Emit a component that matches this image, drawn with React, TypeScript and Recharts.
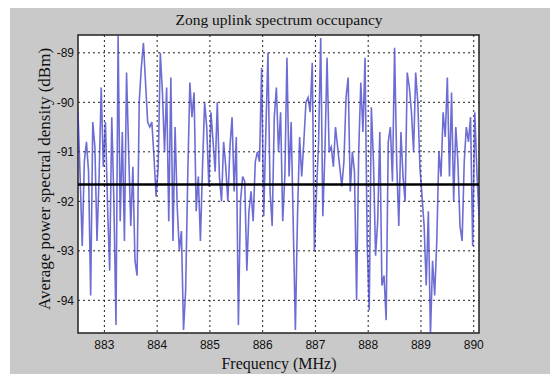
import React from "react";
import {
  CartesianGrid,
  LineChart,
  Line,
  ReferenceArea,
  ReferenceLine,
  XAxis,
  YAxis,
} from "recharts";

// sample grid of the sweep (MHz)
const FREQ_START = 882.5;
const FREQ_STEP = 0.04;

// average PSD per bin (dBm)
const PSD = [
  -90.2, -91.5, -92.9, -91.2, -90.8, -91.4, -93.9, -90.4, -90.9, -92.8,
  -91.5, -89.7, -91.3, -90.4, -92.1, -93.4, -90.3, -92.0, -94.5, -88.65,
  -92.4, -90.6, -92.8, -89.4, -91.0, -92.5, -91.3, -93.2, -93.5, -90.0,
  -89.3, -88.8, -89.6, -90.4, -90.5, -90.4, -91.1, -91.9, -91.3, -89.0,
  -89.8, -91.0, -89.7, -92.4, -89.5, -92.8, -90.5, -92.1, -93.0, -92.6,
  -94.6, -93.8, -91.5, -89.6, -90.3, -89.8, -92.2, -91.5, -92.8, -91.3,
  -90.0, -90.5, -91.7, -90.2, -90.8, -91.4, -90.0, -91.5, -92.0, -90.8,
  -91.3, -92.0, -90.9, -90.3, -91.8, -90.7, -94.5, -92.0, -91.5, -91.6,
  -93.4, -92.2, -91.8, -92.4, -91.2, -91.0, -91.2, -89.3, -92.3, -90.6,
  -89.0, -91.8, -92.5, -90.3, -89.7, -91.0, -90.2, -92.4, -91.5, -89.1,
  -91.5, -90.4, -92.5, -94.6, -92.3, -90.7, -91.5, -90.8, -90.0, -89.9,
  -90.2, -89.2, -93.0, -91.8, -90.8, -88.7, -92.3, -91.0, -89.1, -91.0,
  -90.9, -91.3, -90.5, -90.9, -91.3, -91.7, -91.2, -89.9, -89.5, -91.8,
  -91.0, -91.4, -94.0, -91.0, -89.6, -90.6, -89.1, -92.8, -94.2, -90.1,
  -91.2, -93.1, -92.4, -90.6, -93.7, -93.5, -94.4, -90.8, -90.5, -91.6,
  -88.9, -91.2, -92.5, -90.6, -91.5, -92.0, -89.4, -89.7, -90.2, -91.0,
  -89.4, -90.0, -91.3, -91.9, -92.5, -93.7, -92.2, -94.7, -93.2, -93.9,
  -92.8, -91.0, -91.5, -90.2, -90.7, -89.5, -91.5, -89.8, -92.0, -90.5,
  -91.2, -92.5, -92.8, -91.2, -90.5, -90.8, -90.3, -92.9, -90.2, -91.4,
  -92.3,
];

const THRESHOLD = -91.66;

const X_TICKS = [883, 884, 885, 886, 887, 888, 889, 890];
const Y_TICKS = [-94, -93, -92, -91, -90, -89];

const X_DOMAIN: [number, number] = [882.5, 890.1];
const Y_DOMAIN: [number, number] = [-94.66, -88.64];

const data = PSD.map((p, i) => ({
  freq: +(FREQ_START + i * FREQ_STEP).toFixed(3),
  psd: p,
}));

const serif = "'Liberation Serif', 'Times New Roman', serif";
const sans = "'Liberation Sans', Arial, sans-serif";

export default function App() {
  return (
    <div
      style={{
        position: "absolute",
        left: 0,
        top: 0,
        width: 550,
        height: 374,
        background: "#fff",
        overflow: "hidden",
      }}
    >
      {/* grey figure background */}
      <div
        style={{
          position: "absolute",
          left: 10,
          top: 8,
          width: 540,
          height: 366,
          background: "#c9c9c9",
        }}
      />

      <div
        style={{
          position: "absolute",
          left: 0,
          top: 11,
          width: 550,
          textAlign: "center",
          paddingLeft: 4,
          fontFamily: serif,
          fontSize: 15.5,
          color: "#111",
        }}
      >
        Zong uplink spectrum occupancy
      </div>

      <div style={{ position: "absolute", left: 0, top: 0 }}>
        <LineChart
          width={550}
          height={374}
          data={data}
          margin={{ top: 35, right: 71, bottom: 0, left: 0 }}
        >
          <CartesianGrid
            fill="#ffffff"
            stroke="#222"
            strokeDasharray="2 3"
            horizontalValues={Y_TICKS}
            verticalValues={X_TICKS}
          />
          <XAxis
            dataKey="freq"
            type="number"
            domain={X_DOMAIN}
            ticks={X_TICKS}
            allowDataOverflow
            height={41}
            tickLine={false}
            axisLine={false}
            tickSize={7}
            tickMargin={0}
            tick={{ fill: "#111", fontSize: 12, fontFamily: sans }}
          />
          <YAxis
            type="number"
            domain={Y_DOMAIN}
            ticks={Y_TICKS}
            allowDataOverflow
            width={78}
            tickLine={false}
            axisLine={false}
            tickSize={4}
            tickMargin={0}
            tick={{ fill: "#111", fontSize: 12, fontFamily: sans }}
          />
          <Line
            type="linear"
            dataKey="psd"
            stroke="#3434c4"
            strokeOpacity={0.72}
            strokeWidth={1.6}
            dot={false}
            isAnimationActive={false}
          />
          <ReferenceLine
            y={THRESHOLD}
            stroke="#000"
            strokeWidth={2.5}
            ifOverflow="hidden"
          />
          <ReferenceArea
            x1={X_DOMAIN[0]}
            x2={X_DOMAIN[1]}
            y1={Y_DOMAIN[0]}
            y2={Y_DOMAIN[1]}
            fill="none"
            fillOpacity={0}
            stroke="#222"
            strokeWidth={1.5}
          />
        </LineChart>
      </div>

      <div
        style={{
          position: "absolute",
          left: 0,
          top: 355,
          width: 550,
          paddingLeft: 4,
          textAlign: "center",
          fontFamily: serif,
          fontSize: 16,
          color: "#111",
        }}
      >
        Frequency (MHz)
      </div>

      <div
        style={{
          position: "absolute",
          left: 45,
          top: 179,
          transform: "translate(-50%, -50%) rotate(-90deg)",
          whiteSpace: "nowrap",
          fontFamily: serif,
          fontSize: 17,
          color: "#111",
        }}
      >
        Average power spectral density (dBm)
      </div>
    </div>
  );
}
